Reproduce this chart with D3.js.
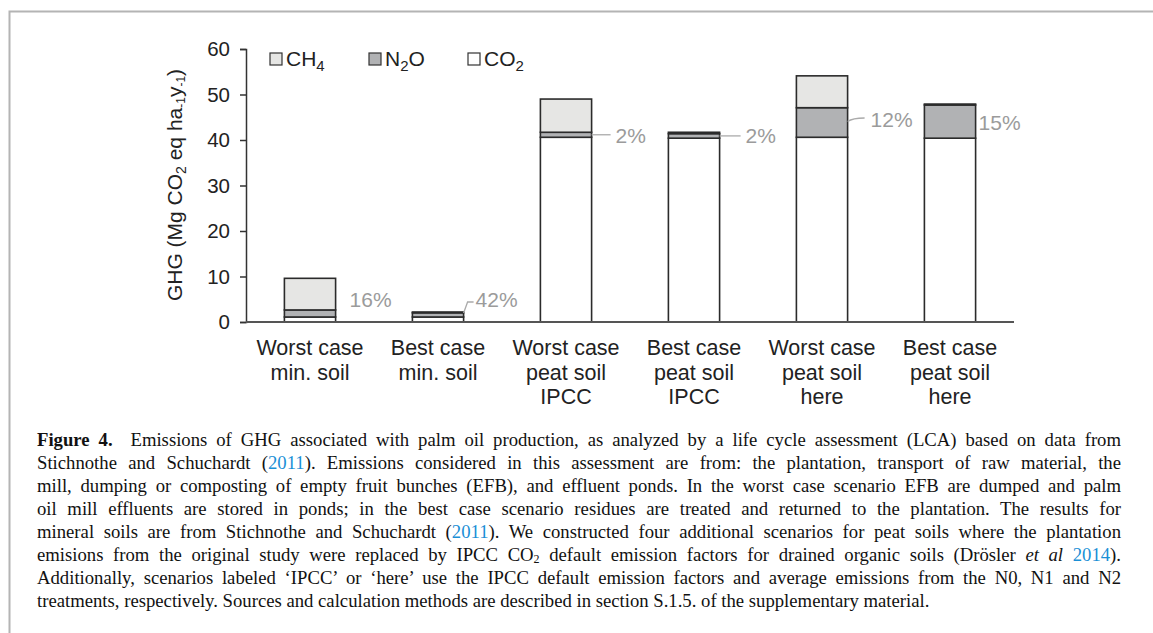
<!DOCTYPE html>
<html>
<head>
<meta charset="utf-8">
<script src="https://cdn.jsdelivr.net/npm/d3@7"></script>
<style>
  body { margin: 0; background: #fff; }
  #wrap { position: relative; width: 1153px; height: 633px; overflow: hidden; }
  svg { position: absolute; left: 0; top: 0; }
  #caption { position: absolute; left: 37px; top: 428px; width: 1084px;
    font-family: "Liberation Serif", "Times New Roman", serif; font-size: 18.7px; color: #111; }
  #caption div { height: 23px; line-height: 23px; white-space: nowrap; text-align: justify; text-align-last: justify; }
  #caption div.last { text-align-last: left; }
  #caption .ref { color: #1a8fd6; }
</style>
</head>
<body>
<div id="wrap"></div>
<script>
// scenarios (x axis, one label line per entry)
var categories = [
  ["Worst case", "min. soil"],
  ["Best case", "min. soil"],
  ["Worst case", "peat soil", "IPCC"],
  ["Best case", "peat soil", "IPCC"],
  ["Worst case", "peat soil", "here"],
  ["Best case", "peat soil", "here"]
];
// Mg CO2 eq ha-1 y-1, stacked bottom to top
var co2 = [1.1, 1.1, 40.6, 40.4, 40.6, 40.4];
var n2o = [1.55, 0.92, 1.1, 1.0, 6.5, 7.3];
var ch4 = [6.95, 0.18, 7.3, 0.3, 7.0, 0.2];
var pctLabels = ["16%", "42%", "2%", "2%", "12%", "15%"];
var yTicks = [0, 10, 20, 30, 40, 50, 60];

var W = 1153, H = 633;
var wrap = d3.select("#wrap");
var svg = wrap.append("svg").attr("width", W).attr("height", H);

// outer frame of the figure box
svg.append("path")
    .attr("d", "M9.5," + H + "V11.5H" + W)
    .attr("fill", "none").attr("stroke", "#b4b4b4").attr("stroke-width", 2);

var x = d3.scaleBand()
    .domain(d3.range(categories.length))
    .range([246, 1014])
    .paddingInner(0.6)
    .paddingOuter(0.3);
var y = d3.scaleLinear().domain([0, 60]).range([322, 49]);

var font = "'Liberation Sans', Arial, sans-serif";
var colors = {co2: "#ffffff", n2o: "#b1b2b4", ch4: "#e6e6e4"};

// y axis
var yAxis = svg.append("g")
    .attr("transform", "translate(246,0)")
    .call(d3.axisLeft(y).tickValues(yTicks).tickSize(6).tickPadding(10));
yAxis.select(".domain").attr("stroke", "#333").attr("stroke-width", 1.5);
yAxis.selectAll(".tick line").attr("stroke", "#333").attr("stroke-width", 1.5);
yAxis.selectAll(".tick text")
    .attr("font-family", font).attr("font-size", 20.5).attr("fill", "#222");

// stacked bars
var rows = categories.map(function (c, i) {
  return {i: i, co2: co2[i], n2o: n2o[i], ch4: ch4[i]};
});
var stack = d3.stack().keys(["co2", "n2o", "ch4"])(rows);

svg.append("g").selectAll("g")
    .data(stack)
    .join("g")
    .attr("fill", function (d) { return colors[d.key]; })
    .selectAll("rect")
    .data(function (d) { return d; })
    .join("rect")
    .attr("x", function (d) { return x(d.data.i); })
    .attr("width", x.bandwidth())
    .attr("y", function (d) { return y(d[1]); })
    .attr("height", function (d) { return y(d[0]) - y(d[1]); })
    .attr("stroke", "#2b2b2b")
    .attr("stroke-width", 1.6);

// x axis line
svg.append("line")
    .attr("x1", 246).attr("x2", 1014)
    .attr("y1", y(0)).attr("y2", y(0))
    .attr("stroke", "#555").attr("stroke-width", 2);

// x labels
svg.append("g").selectAll("text")
    .data(categories)
    .join("text")
    .attr("text-anchor", "middle")
    .attr("font-family", font).attr("font-size", 21.5).attr("fill", "#222")
    .attr("transform", function (d, i) { return "translate(" + (x(i) + x.bandwidth() / 2) + ",355)"; })
    .selectAll("tspan")
    .data(function (d) { return d; })
    .join("tspan")
    .attr("x", 0)
    .attr("y", function (d, j) { return j * 24.5; })
    .text(function (d) { return d; });

// percentage annotations (N2O share), placement per bar
var annot = [
  {dx: 14, ly: 300, leader: null},
  {dx: 12, ly: 300, leader: "bend"},
  {dx: 24, ly: 136, leader: "flat"},
  {dx: 26, ly: 136, leader: "flat"},
  {dx: 23, ly: 120, leader: "slant"},
  {dx: 3, ly: 123, leader: null}
];
var ann = svg.append("g");
annot.forEach(function (a, i) {
  var xr = x(i) + x.bandwidth();
  var ym = y(co2[i] + n2o[i] / 2);
  if (a.leader === "bend") {
    ann.append("path").attr("d", "M" + xr + "," + (ym - 2) + "L" + (xr + 4) + "," + (a.ly + 2) + "H" + (xr + 10))
        .attr("fill", "none").attr("stroke", "#aaa").attr("stroke-width", 1.3);
  } else if (a.leader === "flat") {
    ann.append("line").attr("x1", xr).attr("x2", xr + a.dx - 5).attr("y1", ym).attr("y2", ym)
        .attr("stroke", "#aaa").attr("stroke-width", 1.3);
  } else if (a.leader === "slant") {
    ann.append("path").attr("d", "M" + xr + "," + (ym - 1) + "Q" + (xr + 5) + "," + (a.ly - 2) + " " + (xr + a.dx - 6) + "," + (a.ly - 2))
        .attr("fill", "none").attr("stroke", "#aaa").attr("stroke-width", 1.3);
  }
  ann.append("text")
      .attr("x", xr + a.dx).attr("y", a.ly).attr("dy", "0.35em")
      .attr("font-family", font).attr("font-size", 21).attr("fill", "#9b9b9b")
      .text(pctLabels[i]);
});

// legend
var legendItems = [
  {key: "ch4", base: "CH", sub: "4", after: "", x: 270},
  {key: "n2o", base: "N", sub: "2", after: "O", x: 369},
  {key: "co2", base: "CO", sub: "2", after: "", x: 468}
];
var lg = svg.append("g");
legendItems.forEach(function (d) {
  lg.append("rect").attr("x", d.x).attr("y", 53).attr("width", 12).attr("height", 12)
      .attr("fill", colors[d.key]).attr("stroke", "#333").attr("stroke-width", 1.2);
  var t = lg.append("text").attr("x", d.x + 16).attr("y", 66)
      .attr("font-family", font).attr("font-size", 21).attr("fill", "#222");
  t.append("tspan").text(d.base);
  t.append("tspan").attr("font-size", 15).attr("dy", 5).text(d.sub);
  if (d.after) t.append("tspan").attr("dy", -5).text(d.after);
});

// y axis title
var yt = svg.append("text")
    .attr("transform", "translate(182,185) rotate(-90)")
    .attr("text-anchor", "middle")
    .attr("font-family", font).attr("font-size", 21).attr("fill", "#222");
yt.append("tspan").text("GHG (Mg CO");
yt.append("tspan").attr("font-size", 14).attr("dy", 4).text("2");
yt.append("tspan").attr("dy", -4).text(" eq ha");
yt.append("tspan").attr("font-size", 12).attr("dy", 3).text("-1");
yt.append("tspan").attr("dy", -3).text("y");
yt.append("tspan").attr("font-size", 12).attr("dy", 3).text("-1");
yt.append("tspan").attr("dy", -3).text(")");

// caption
var captionLines = [
  '<b>Figure 4.</b>&nbsp; Emissions of GHG associated with palm oil production, as analyzed by a life cycle assessment (LCA) based on data from',
  'Stichnothe and Schuchardt (<span class="ref">2011</span>). Emissions considered in this assessment are from: the plantation, transport of raw material, the',
  'mill, dumping or composting of empty fruit bunches (EFB), and effluent ponds. In the worst case scenario EFB are dumped and palm',
  'oil mill effluents are stored in ponds; in the best case scenario residues are treated and returned to the plantation. The results for',
  'mineral soils are from Stichnothe and Schuchardt (<span class="ref">2011</span>). We constructed four additional scenarios for peat soils where the plantation',
  'emisions from the original study were replaced by IPCC CO<sub style="font-size:12px;vertical-align:-2px">2</sub> default emission factors for drained organic soils (Dr\u00f6sler <i>et al</i> <span class="ref">2014</span>).',
  'Additionally, scenarios labeled \u2018IPCC\u2019 or \u2018here\u2019 use the IPCC default emission factors and average emissions from the N0, N1 and N2',
  'treatments, respectively. Sources and calculation methods are described in section S.1.5. of the supplementary material.'
];
wrap.append("div").attr("id", "caption")
    .selectAll("div")
    .data(captionLines)
    .join("div")
    .classed("last", function (d, i) { return i === captionLines.length - 1; })
    .html(function (d) { return d; });
</script>
</body>
</html>
